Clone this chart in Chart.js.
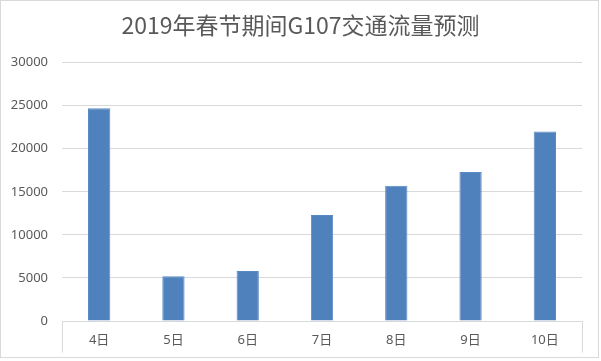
<!DOCTYPE html>
<html>
<head>
<meta charset="utf-8">
<script src="https://cdn.jsdelivr.net/npm/chart.js@4"></script>
<style>
  html, body { margin: 0; padding: 0; background: #fff; }
  #wrap { width: 601px; height: 361px; }
</style>
</head>
<body>
<div id="wrap"><canvas id="trafficChart" width="601" height="361"></canvas></div>
<script>
// G107 traffic forecast, Spring Festival 2019
const titleText = '2019年春节期间G107交通流量预测';
const days = ['4日', '5日', '6日', '7日', '8日', '9日', '10日'];
const traffic = [24700, 5200, 5800, 12300, 15700, 17300, 22000];
const yTicks = [0, 5000, 10000, 15000, 20000, 25000, 30000];

const gray = '#d9d9d9';
const textGray = '#595959';

// outer chart border + Excel-like box under the category axis
const frame = {
    id: 'frame',
    afterDraw(chart) {
        const ctx = chart.ctx;
        const a = chart.chartArea;
        ctx.save();
        ctx.strokeStyle = gray;
        ctx.lineWidth = 1;
        ctx.beginPath();
        const l = Math.round(a.left) + 0.5, r = Math.round(a.right) + 0.5, b = Math.round(a.bottom) + 0.5;
        ctx.moveTo(l, b); ctx.lineTo(l, b + 31);
        ctx.moveTo(r, b); ctx.lineTo(r, b + 31);
        ctx.stroke();
        ctx.strokeRect(0.5, 0.5, 598, 357);
        ctx.restore();
    }
};

const ctx = document.getElementById('trafficChart').getContext('2d');
new Chart(ctx, {
    type: 'bar',
    data: {
        labels: days,
        datasets: [{
            label: '交通流量',
            data: traffic,
            backgroundColor: '#4f81bd',
            borderColor: '#5a8ac6',
            borderWidth: 1,
            barPercentage: 0.3,
            categoryPercentage: 1
        }]
    },
    options: {
        responsive: false,
        animation: false,
        layout: { padding: 0 },
        plugins: {
            legend: { display: false },
            tooltip: { enabled: false },
            title: {
                display: true,
                text: titleText,
                color: textGray,
                font: { family: "'Noto Sans CJK SC'", size: 23, weight: 'normal' },
                padding: { top: 11, bottom: 24 }
            }
        },
        scales: {
            x: {
                grid: { display: false, drawTicks: false },
                border: { display: true, color: gray },
                ticks: {
                    color: textGray,
                    padding: 11,
                    font: { family: "'Noto Sans', 'Noto Sans CJK SC'", size: 13 }
                },
                afterFit(scale) { scale.height = 40; }
            },
            y: {
                min: 0,
                max: 30000,
                afterBuildTicks(scale) { scale.ticks = yTicks.map(v => ({ value: v })); },
                grid: { color: gray, drawTicks: false },
                border: { display: false },
                ticks: {
                    color: textGray,
                    padding: 14,
                    font: { family: "'Noto Sans'", size: 13 },
                    callback: v => String(v)
                },
                afterFit(scale) { scale.width = 62; }
            },
            // empty right-hand spacer so the title stays centred on the canvas
            spacer: {
                type: 'linear',
                position: 'right',
                display: true,
                grid: { display: false, drawTicks: false },
                border: { display: false },
                ticks: { display: false },
                afterFit(scale) { scale.width = 19; }
            }
        }
    },
    plugins: [frame]
});
</script>
</body>
</html>
